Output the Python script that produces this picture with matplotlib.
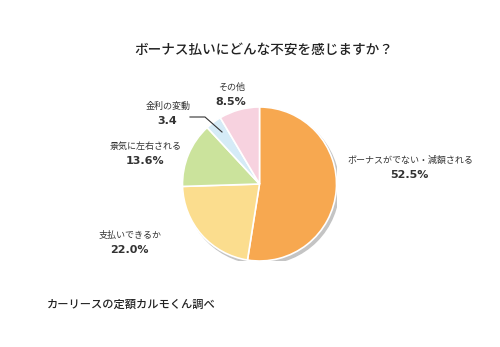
import matplotlib
matplotlib.use("Agg")
import matplotlib.pyplot as plt

plt.rcParams['font.family'] = ['Noto Sans CJK JP', 'DejaVu Sans']

labels = ["ボーナスがでない・減額される", "支払いできるか", "景気に左右される", "金利の変動", "その他"]
values = [52.5, 22.0, 13.6, 3.4, 8.5]
value_texts = ["52.5%", "22.0%", "13.6%", "3.4", "8.5%"]
colors = ["#F7A850", "#FBDD8E", "#CBE39C", "#D5EBF7", "#F7D2DF"]
title = "ボーナス払いにどんな不安を感じますか？"
source = "カーリースの定額カルモくん調べ"

W, H = 500, 347
fig = plt.figure(figsize=(W / 100, H / 100), dpi=100)
fig.patch.set_facecolor("white")

cx, cy, r = 259.5, 184, 77
ax = fig.add_axes([(cx - r) / W, 1 - (cy + r) / H, 2 * r / W, 2 * r / H])
# shadow
shadow = plt.Circle((2.5 / r, -3.0 / r), 1.0, color="#C4C4C4", zorder=0)
ax.add_patch(shadow)
ax.pie(values, colors=colors, startangle=90, counterclock=False,
       wedgeprops=dict(edgecolor="white", linewidth=1.2))
ax.set_xlim(-1, 1)
ax.set_ylim(-1, 1)
ax.set_aspect("equal")
ax.axis("off")

def px(x, y):
    return x / W, 1 - y / H

fig.text(*px(264, 50), title, ha="center", va="center", fontsize=9.8,
         fontweight="medium", color="#222222")

label_pos = [(410, 160), (130, 235), (146, 146), (168, 106), (232, 87)]
for lab, vt, (x, y) in zip(labels, value_texts, label_pos):
    fig.text(*px(x, y), lab, ha="center", va="center", fontsize=6.5, color="#333333")
    fig.text(*px(x - 1, y + 15), vt, ha="center", va="center", fontsize=8, fontweight="bold",
             color="#333333", family="DejaVu Sans")

# leader line for 金利の変動
line = plt.Line2D([190 / W, 205 / W, 222 / W], [1 - 117 / H, 1 - 117 / H, 1 - 132 / H],
                  transform=fig.transFigure, color="#333333", linewidth=0.8)
fig.add_artist(line)

fig.text(*px(47, 305), source, ha="left", va="center", fontsize=8.1,
         fontweight="medium", color="#222222")

fig.savefig("out.png", dpi=100)
